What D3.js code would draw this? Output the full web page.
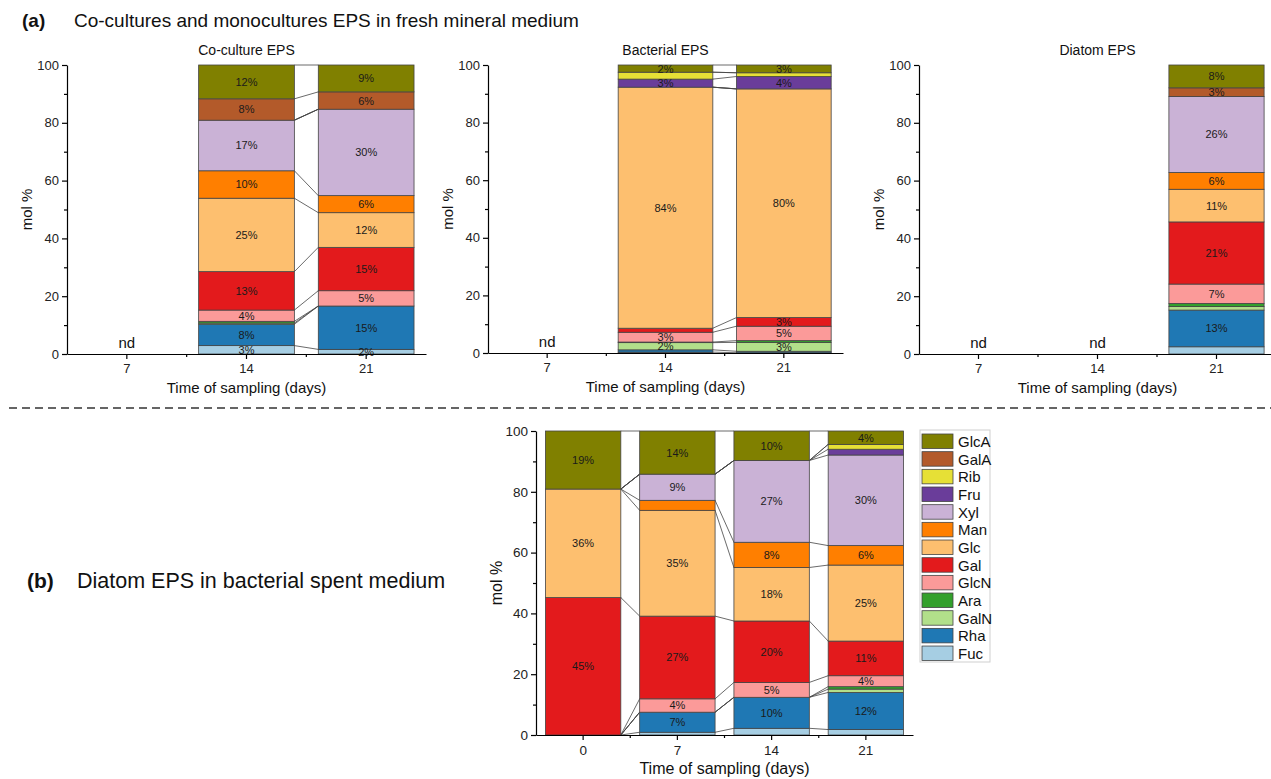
<!DOCTYPE html>
<html>
<head>
<meta charset="utf-8">
<script src="https://cdn.jsdelivr.net/npm/d3@7"></script>
<style>
  body { margin: 0; background: #fff; }
  svg { font-family: "Liberation Sans", Arial, sans-serif; display: block; }
  .axis path, .axis line { stroke: #000; stroke-width: 1.2; }
  .axis text { fill: #222; }
</style>
</head>
<body>
<div id="chart"></div>
<script>
// sugars, stacked from the bottom up
const sugars = ['Fuc', 'Rha', 'GalN', 'Ara', 'GlcN', 'Gal', 'Glc', 'Man', 'Xyl', 'Fru', 'Rib', 'GalA', 'GlcA'];
const sugarColors = ['#a6cee3', '#1f78b4', '#b2df8a', '#33a02c', '#fb9a99', '#e31a1c', '#fdbf6f',
                     '#ff7f00', '#cab2d6', '#6a3d9a', '#e6e036', '#b35a2a', '#808000'];

const daysA = ['7', '14', '21'];
const daysB = ['0', '7', '14', '21'];

// mol % (same order as sugars), null = nd
const coculture14 = [2.9, 7.4, 0.4, 0.6, 3.9, 13.3, 25.4, 9.5, 17.5, 0, 0, 7.4, 11.7];
const coculture21 = [1.6, 15.0, 0, 0, 5.3, 15.0, 12.0, 5.9, 29.9, 0, 0, 6.0, 9.3];
const coculture14Labels = ['3%', '8%', '', '', '4%', '13%', '25%', '10%', '17%', '', '', '8%', '12%'];
const coculture21Labels = ['2%', '15%', '', '', '5%', '15%', '12%', '6%', '30%', '', '', '6%', '9%'];

const bacterial14 = [0.3, 0.8, 2.5, 0.2, 3.4, 1.4, 83.7, 0, 0, 2.8, 2.4, 0, 2.5];
const bacterial21 = [0.1, 0.5, 3.1, 0.6, 5.0, 3.0, 79.4, 0, 0, 4.3, 1.3, 0, 2.7];
const bacterial14Labels = ['', '', '2%', '', '3%', '', '84%', '', '', '3%', '', '', '2%'];
const bacterial21Labels = ['', '', '3%', '', '5%', '3%', '80%', '', '', '4%', '', '', '3%'];

const diatom21 = [2.5, 12.7, 1.2, 1.1, 6.7, 21.5, 11.3, 5.8, 26.3, 0, 0, 3.0, 7.9];
const diatom21Labels = ['', '13%', '', '', '7%', '21%', '11%', '6%', '26%', '', '', '3%', '8%'];

const spent0 = [0, 0, 0, 0, 0, 45.2, 35.7, 0, 0, 0, 0, 0, 19.1];
const spent7 = [0.9, 6.6, 0, 0, 4.4, 27.2, 34.8, 3.3, 8.6, 0, 0, 0, 14.2];
const spent14 = [2.2, 10.2, 0, 0, 4.9, 20.2, 17.6, 8.3, 26.9, 0, 0, 0, 9.7];
const spent21 = [1.8, 12.2, 1.1, 0.8, 3.6, 11.4, 25.0, 6.4, 29.8, 1.9, 1.6, 0, 4.4];
const spent0Labels = ['', '', '', '', '', '45%', '36%', '', '', '', '', '', '19%'];
const spent7Labels = ['', '7%', '', '', '4%', '27%', '35%', '', '9%', '', '', '', '14%'];
const spent14Labels = ['', '10%', '', '', '5%', '20%', '18%', '8%', '27%', '', '', '', '10%'];
const spent21Labels = ['', '12%', '', '', '4%', '11%', '25%', '6%', '30%', '', '', '', '4%'];

const yMajor = [0, 20, 40, 60, 80, 100];
const yMinor = [10, 30, 50, 70, 90];

const width = 1271, height = 779;

const svg = d3.select('#chart')
  .append('svg')
  .attr('width', width)
  .attr('height', height);

svg.append('rect').attr('width', width).attr('height', height).attr('fill', '#fff');

function drawPanel(p) {
  const x = d3.scaleBand()
    .domain(p.days)
    .range([p.left, p.right])
    .paddingInner(0.2)
    .paddingOuter(0.1);
  const y = d3.scaleLinear().domain([0, 100]).range([p.bottom, p.top]);
  const g = svg.append('g');

  // rows only for sampled days
  const rows = [];
  p.values.forEach((v, i) => {
    if (!v) return;
    const row = { day: p.days[i], idx: i, labels: p.labels[i] };
    sugars.forEach((s, k) => row[s] = v[k]);
    rows.push(row);
  });
  const series = d3.stack().keys(sugars)(rows);

  // Origin style connecting lines between neighbouring bars
  const links = [];
  for (let j = 0; j < rows.length - 1; j++) {
    if (rows[j + 1].idx - rows[j].idx !== 1) continue;
    series.forEach(s => links.push({
      x1: x(rows[j].day) + x.bandwidth(), y1: y(s[j][1]),
      x2: x(rows[j + 1].day), y2: y(s[j + 1][1])
    }));
  }
  g.append('g').selectAll('line')
    .data(links)
    .join('line')
    .attr('x1', d => d.x1).attr('y1', d => d.y1)
    .attr('x2', d => d.x2).attr('y2', d => d.y2)
    .attr('stroke', '#444')
    .attr('stroke-width', 0.8);

  const layer = g.append('g').selectAll('g')
    .data(series)
    .join('g')
    .attr('fill', (d, i) => sugarColors[i]);

  layer.selectAll('rect')
    .data(d => d.filter(e => e[1] - e[0] > 0))
    .join('rect')
    .attr('x', d => x(d.data.day))
    .attr('width', x.bandwidth())
    .attr('y', d => y(d[1]))
    .attr('height', d => y(d[0]) - y(d[1]))
    .attr('stroke', '#444')
    .attr('stroke-width', 0.8);

  // segment labels
  const labelData = [];
  series.forEach((s, k) => s.forEach(e => {
    const t = e.data.labels[k];
    if (t) labelData.push({ t, cx: x(e.data.day) + x.bandwidth() / 2, cy: y((e[0] + e[1]) / 2) });
  }));
  g.append('g').selectAll('text')
    .data(labelData)
    .join('text')
    .attr('x', d => d.cx)
    .attr('y', d => d.cy)
    .attr('dy', '0.36em')
    .attr('text-anchor', 'middle')
    .attr('font-size', 11)
    .attr('fill', '#1a1a1a')
    .text(d => d.t);

  // nd markers
  g.append('g').selectAll('text')
    .data(p.days.filter((d, i) => !p.values[i]))
    .join('text')
    .attr('x', d => x(d) + x.bandwidth() / 2)
    .attr('y', p.bottom - 6)
    .attr('text-anchor', 'middle')
    .attr('font-size', 15)
    .attr('fill', '#111')
    .text('nd');

  // axes
  const yAxis = g.append('g')
    .attr('class', 'axis')
    .attr('transform', `translate(${p.left},0)`)
    .call(d3.axisLeft(y).tickValues(yMajor).tickSize(5).tickSizeOuter(0).tickPadding(3));
  yAxis.selectAll('text').attr('font-size', p.tickFont);

  g.append('g')
    .attr('class', 'axis')
    .attr('transform', `translate(${p.left},0)`)
    .call(d3.axisLeft(y).tickValues(yMinor).tickSize(3).tickFormat(''))
    .select('.domain').remove();

  const xAxis = g.append('g')
    .attr('class', 'axis')
    .attr('transform', `translate(0,${p.bottom})`)
    .call(d3.axisBottom(x).tickSize(5).tickSizeOuter(0).tickPadding(5));
  xAxis.selectAll('text').attr('font-size', p.tickFont);

  // minor x ticks on band boundaries
  const bounds = p.days.slice(1).map(d => x(d) + x.bandwidth() / 2 - x.step() / 2);
  g.append('g').selectAll('line')
    .data(bounds)
    .join('line')
    .attr('x1', d => d).attr('x2', d => d)
    .attr('y1', p.bottom).attr('y2', p.bottom + 3)
    .attr('stroke', '#000')
    .attr('stroke-width', 1.2);

  // titles
  if (p.title) {
    g.append('text')
      .attr('x', (p.left + p.right) / 2)
      .attr('y', p.top - 10)
      .attr('text-anchor', 'middle')
      .attr('font-size', 14)
      .attr('fill', '#111')
      .text(p.title);
  }
  g.append('text')
    .attr('x', (p.left + p.right) / 2)
    .attr('y', p.bottom + 39)
    .attr('text-anchor', 'middle')
    .attr('font-size', p.labelFont)
    .attr('fill', '#111')
    .text('Time of sampling (days)');

  g.append('text')
    .attr('transform', `translate(${p.left - 40},${(p.top + p.bottom) / 2}) rotate(-90)`)
    .attr('dy', '0.35em')
    .attr('text-anchor', 'middle')
    .attr('font-size', p.labelFont)
    .attr('fill', '#111')
    .text('mol %');
}

drawPanel({ title: 'Co-culture EPS', days: daysA, values: [null, coculture14, coculture21],
  labels: [null, coculture14Labels, coculture21Labels],
  left: 67, right: 426, top: 65, bottom: 354, tickFont: 13, labelFont: 15 });

drawPanel({ title: 'Bacterial EPS', days: daysA, values: [null, bacterial14, bacterial21],
  labels: [null, bacterial14Labels, bacterial21Labels],
  left: 488, right: 843, top: 65, bottom: 353, tickFont: 13, labelFont: 15 });

drawPanel({ title: 'Diatom EPS', days: daysA, values: [null, null, diatom21],
  labels: [null, null, diatom21Labels],
  left: 919, right: 1276, top: 65, bottom: 354, tickFont: 13, labelFont: 15 });

drawPanel({ title: null, days: daysB, values: [spent0, spent7, spent14, spent21],
  labels: [spent0Labels, spent7Labels, spent14Labels, spent21Labels],
  left: 536, right: 913, top: 431, bottom: 735, tickFont: 13.5, labelFont: 16 });

// panel headings
svg.append('text').attr('x', 22).attr('y', 27)
  .attr('font-size', 19).attr('font-weight', 'bold').attr('fill', '#111').text('(a)');
svg.append('text').attr('x', 74).attr('y', 27)
  .attr('font-size', 19).attr('fill', '#111')
  .text('Co-cultures and monocultures EPS in fresh mineral medium');
svg.append('text').attr('x', 27).attr('y', 588)
  .attr('font-size', 21).attr('font-weight', 'bold').attr('fill', '#111').text('(b)');
svg.append('text').attr('x', 77).attr('y', 588)
  .attr('font-size', 21.5).attr('fill', '#111')
  .text('Diatom EPS in bacterial spent medium');

// dashed separator
svg.append('line')
  .attr('x1', 9).attr('x2', width)
  .attr('y1', 408).attr('y2', 408)
  .attr('stroke', '#333')
  .attr('stroke-width', 1.5)
  .attr('stroke-dasharray', '8,5');

// legend, top entry = top of stack
const legend = svg.append('g').attr('transform', 'translate(920,430)');
const legendItems = sugars.map((s, i) => ({ s, c: sugarColors[i] })).reverse();
legend.append('rect')
  .attr('width', 70).attr('height', 232)
  .attr('fill', '#fff')
  .attr('stroke', '#cfcfcf');
const item = legend.selectAll('g.item')
  .data(legendItems)
  .join('g')
  .attr('class', 'item')
  .attr('transform', (d, i) => `translate(2,${4 + i * 17.67})`);
item.append('rect')
  .attr('width', 31).attr('height', 14.5)
  .attr('fill', d => d.c)
  .attr('stroke', '#444')
  .attr('stroke-width', 0.8);
item.append('text')
  .attr('x', 36).attr('y', 7.5)
  .attr('dy', '0.36em')
  .attr('font-size', 15)
  .attr('fill', '#111')
  .text(d => d.s);
</script>
</body>
</html>
